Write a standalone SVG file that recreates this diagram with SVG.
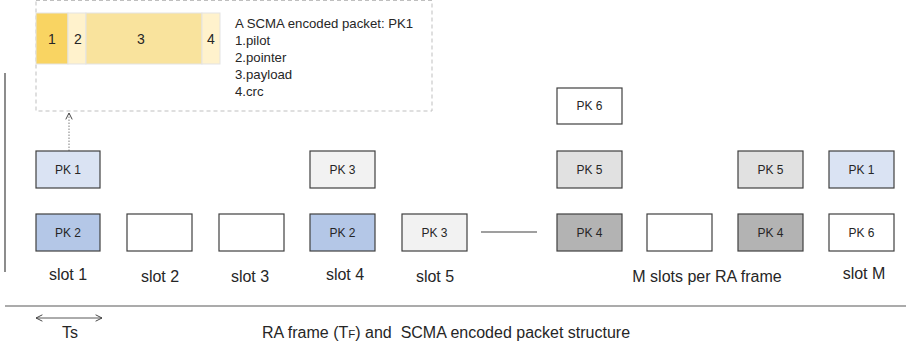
<svg xmlns="http://www.w3.org/2000/svg" width="906" height="347" viewBox="0 0 906 347">
<style>
text{font-family:"Liberation Sans",Arial,sans-serif;fill:#262626}
.box{stroke:#404040;stroke-width:1.2}
.pk{font-size:12px;text-anchor:middle}
.slot{font-size:16px;text-anchor:middle}
.seg{stroke:#e3e3e3;stroke-width:1}
.num{font-size:14px;text-anchor:middle}
.info{font-size:13.2px}
</style>
<defs>
<marker id="open" viewBox="0 0 10 10" refX="9" refY="5" markerWidth="8" markerHeight="8" orient="auto-start-reverse" markerUnits="userSpaceOnUse">
<path d="M1,1 L9,5 L1,9" fill="none" stroke="#404040" stroke-width="1.2"/>
</marker>
</defs>
<rect width="906" height="347" fill="#fff"/>
<g id="packet-structure">
<rect x="36" y="0.5" width="396" height="110.5" fill="none" stroke="#bfbfbf" stroke-dasharray="4,3"/>
<rect class="seg" x="36" y="13" width="32" height="51" fill="#f9d462"/>
<rect class="seg" x="68" y="13" width="18" height="51" fill="#fff2cc"/>
<rect class="seg" x="86" y="13" width="116" height="51" fill="#f9e39d"/>
<rect class="seg" x="202" y="13" width="18" height="51" fill="#fff2cc"/>
<text class="num" x="52" y="44">1</text>
<text class="num" x="78" y="44">2</text>
<text class="num" x="141" y="44">3</text>
<text class="num" x="211" y="44">4</text>
<text class="info" x="235" y="28">A SCMA encoded packet: PK1</text>
<text class="info" x="235" y="45">1.pilot</text>
<text class="info" x="235" y="62">2.pointer</text>
<text class="info" x="235" y="79">3.payload</text>
<text class="info" x="235" y="96">4.crc</text>
</g>
<g id="connectors" fill="none">
<line x1="5" y1="73" x2="5" y2="272" stroke="#404040" stroke-width="1.2"/>
<line x1="69" y1="151" x2="69" y2="113" stroke="#7f7f7f" stroke-width="1" stroke-dasharray="1.5,1.5" marker-end="url(#open)"/>
<line x1="481" y1="232" x2="537" y2="232" stroke="#404040" stroke-width="1.2"/>
<line x1="5" y1="306" x2="906" y2="306" stroke="#595959" stroke-width="1.2"/>
<line x1="36" y1="318" x2="102" y2="318" stroke="#595959" stroke-width="1" marker-start="url(#open)" marker-end="url(#open)"/>
</g>
<g id="slot1-pk1"><rect class="box" x="36" y="151" width="64" height="37" fill="#dae3f3"/><text class="pk" x="68" y="174">PK 1</text></g>
<g id="slot1-pk2"><rect class="box" x="36" y="214" width="64" height="37" fill="#b4c7e7"/><text class="pk" x="68" y="237">PK 2</text></g>
<g id="slot2"><rect class="box" x="127" y="214" width="65" height="37" fill="#fff"/></g>
<g id="slot3"><rect class="box" x="219" y="214" width="65" height="37" fill="#fff"/></g>
<g id="slot4-pk3"><rect class="box" x="310" y="151" width="65" height="37" fill="#f2f2f2"/><text class="pk" x="342.5" y="174">PK 3</text></g>
<g id="slot4-pk2"><rect class="box" x="310" y="214" width="65" height="37" fill="#b4c7e7"/><text class="pk" x="342.5" y="237">PK 2</text></g>
<g id="slot5-pk3"><rect class="box" x="402" y="214" width="65" height="37" fill="#f2f2f2"/><text class="pk" x="434.5" y="237">PK 3</text></g>
<g id="col6-pk6"><rect class="box" x="557" y="88" width="65" height="36" fill="#fff"/><text class="pk" x="589.5" y="110">PK 6</text></g>
<g id="col6-pk5"><rect class="box" x="557" y="151" width="65" height="37" fill="#e1e1e1"/><text class="pk" x="589.5" y="174">PK 5</text></g>
<g id="col6-pk4"><rect class="box" x="557" y="214" width="65" height="37" fill="#b3b3b3"/><text class="pk" x="589.5" y="237">PK 4</text></g>
<g id="col7"><rect class="box" x="647" y="214" width="65" height="37" fill="#fff"/></g>
<g id="col8-pk5"><rect class="box" x="738" y="151" width="65" height="37" fill="#e1e1e1"/><text class="pk" x="770.5" y="174">PK 5</text></g>
<g id="col8-pk4"><rect class="box" x="738" y="214" width="65" height="37" fill="#b3b3b3"/><text class="pk" x="770.5" y="237">PK 4</text></g>
<g id="slotM-pk1"><rect class="box" x="829" y="151" width="65" height="37" fill="#dae3f3"/><text class="pk" x="861.5" y="174">PK 1</text></g>
<g id="slotM-pk6"><rect class="box" x="829" y="214" width="65" height="37" fill="#fff"/><text class="pk" x="861.5" y="237">PK 6</text></g>
<g id="labels">
<text class="slot" x="68" y="280">slot 1</text>
<text class="slot" x="160" y="282">slot 2</text>
<text class="slot" x="250" y="282">slot 3</text>
<text class="slot" x="345" y="280">slot 4</text>
<text class="slot" x="435" y="282">slot 5</text>
<text class="slot" x="707" y="282">M slots per RA frame</text>
<text class="slot" x="864" y="279">slot M</text>
<text class="slot" x="70" y="338">Ts</text>
<text class="slot" x="262" y="338" style="text-anchor:start">RA frame (T<tspan font-size="11.5">F</tspan>) and&#160; SCMA encoded packet structure</text>
</g>
</svg>
